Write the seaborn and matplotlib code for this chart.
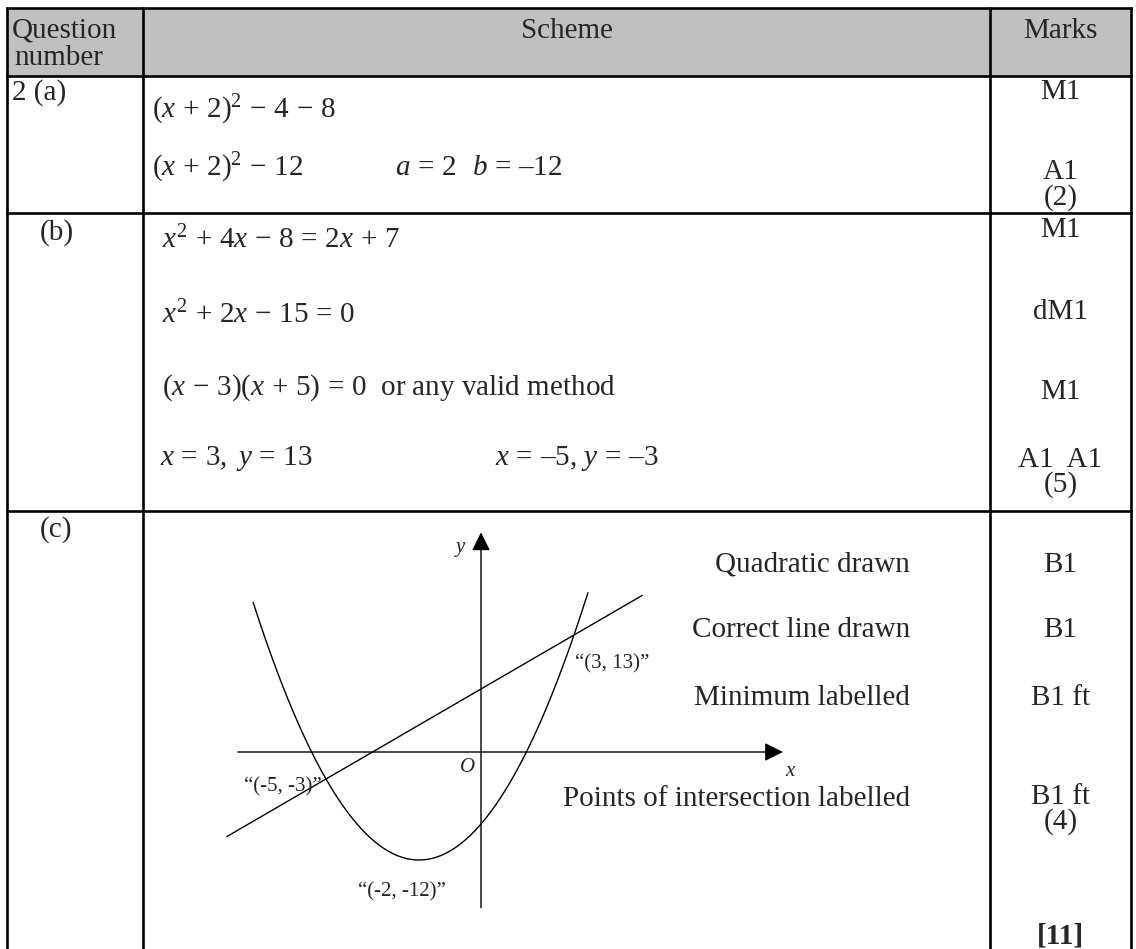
import numpy as np
import pandas as pd
import matplotlib
matplotlib.use('Agg')
import matplotlib.pyplot as plt
from matplotlib.patches import Rectangle
import seaborn as sns

# ------------------------------------------------------------
# data
# ------------------------------------------------------------
headers = ['Question', 'number', 'Scheme', 'Marks']
part_labels = ['2 (a)', '(b)', '(c)']

scheme_a = [r'$(x\,+\,2)^2\,-\,4\,-\,8$',
            r'$(x\,+\,2)^2\,-\,12$',
            r'$a\,=\,2$', r'$b\,=\,$' + '\u201312']
marks_a = ['M1', 'A1', '(2)']

scheme_b = [r'$x^2\,+\,4x\,-\,8\,=\,2x\,+\,7$',
            r'$x^2\,+\,2x\,-\,15\,=\,0$',
            r'$(x\,-\,3)(x\,+\,5)\,=\,0$  or any valid method',
            r'$x\,=\,3,\ y\,=\,13$',
            r'$x\,=\,$' + '\u20135, ' + r'$y\,=\,$' + '\u20133']
marks_b = ['M1', 'dM1', 'M1', 'A1  A1', '(5)']

scheme_c = ['Quadratic drawn', 'Correct line drawn', 'Minimum labelled',
            'Points of intersection labelled']
marks_c = ['B1', 'B1', 'B1 ft', 'B1 ft', '(4)']
total = '[11]'

# sketch: y = x^2 + 4x - 8 and y = 2x + 7
quad_coef = [1, 4, -8]
line_coef = [2, 7]
quad_x_range = [-7.35, 3.45]
line_x_range = [-8.2, 5.2]
points_x = [-5, -2, 3]
points_y = [-3, -12, 13]
point_labels = ['\u201c(-5, -3)\u201d', '\u201c(-2, -12)\u201d', '\u201c(3, 13)\u201d']

# ------------------------------------------------------------
# style
# ------------------------------------------------------------
sns.set_style('white')
plt.rcParams['font.family'] = ['Liberation Serif', 'DejaVu Serif']
plt.rcParams['mathtext.fontset'] = 'custom'
plt.rcParams['mathtext.rm'] = 'Liberation Serif'
plt.rcParams['mathtext.it'] = 'Liberation Serif:italic'
plt.rcParams['mathtext.bf'] = 'Liberation Serif:bold'

W, H = 1136, 949
FS = 21
fig = plt.figure(figsize=(W / 100, H / 100), dpi=100)
ax = fig.add_axes([0, 0, 1, 1])
ax.set_xlim(0, W)
ax.set_ylim(H, 0)
ax.axis('off')

# table frame
left, right, top, head_bot = 7, 1131, 8, 76
col1, col2 = 143, 990
row_ab, row_bc = 213, 511
ax.add_patch(Rectangle((left, top), right - left, head_bot - top,
                       facecolor='#c0c0c0', edgecolor='none', zorder=0))
lw = 1.9
for yy in [top, head_bot, row_ab, row_bc]:
    ax.plot([left, right], [yy, yy], color='black', lw=lw, solid_capstyle='projecting')
for xx in [left, col1, col2, right]:
    ax.plot([xx, xx], [top, H + 5], color='black', lw=lw)

# header
ax.text(12, 30, headers[0], fontsize=FS, va='center', ha='left')
ax.text(14, 58, headers[1], fontsize=FS, va='center', ha='left')
ax.text((col1 + col2) / 2, 31, headers[2], fontsize=FS, va='center', ha='center')
ax.text((col2 + right) / 2, 31, headers[3], fontsize=FS, va='center', ha='center')

# part labels
ax.text(12, 93, part_labels[0], fontsize=FS, va='center', ha='left')
ax.text(40, 233, part_labels[1], fontsize=FS, va='center', ha='left')
ax.text(40, 530, part_labels[2], fontsize=FS, va='center', ha='left')

mx = (col2 + right) / 2

# part (a)
ax.text(152, 110, scheme_a[0], fontsize=FS, va='center', ha='left')
ax.text(152, 168, scheme_a[1], fontsize=FS, va='center', ha='left')
ax.text(395, 168, scheme_a[2], fontsize=FS, va='center', ha='left')
ax.text(472, 168, scheme_a[3], fontsize=FS, va='center', ha='left')
for txt, yy in zip(marks_a, [92, 172, 198]):
    ax.text(mx, yy, txt, fontsize=FS, va='center', ha='center')

# part (b)
for txt, yy in zip(scheme_b[:3], [240, 315, 388]):
    ax.text(162, yy, txt, fontsize=FS, va='center', ha='left')
ax.text(160, 458, scheme_b[3], fontsize=FS, va='center', ha='left')
ax.text(495, 458, scheme_b[4], fontsize=FS, va='center', ha='left')
for txt, yy in zip(marks_b, [230, 312, 392, 460, 485]):
    ax.text(mx, yy, txt, fontsize=FS, va='center', ha='center')

# part (c) descriptions and marks
for txt, yy in zip(scheme_c, [565, 630, 698, 799]):
    ax.text(910, yy, txt, fontsize=FS, va='center', ha='right')
for txt, yy in zip(marks_c, [565, 630, 698, 797, 822]):
    ax.text(mx, yy, txt, fontsize=FS, va='center', ha='center')
ax.text(mx, 936, total, fontsize=FS, va='center', ha='center', fontweight='bold')

# ------------------------------------------------------------
# sketch in its own axes
# ------------------------------------------------------------
ox, oy = 481, 752          # origin in pixels
sx, sy = 31.0, 9.0         # pixels per unit
xlim = (-8.5, 10.5)
ylim = (-18.0, 25.5)
x0 = ox + xlim[0] * sx
x1 = ox + xlim[1] * sx
y0 = oy - ylim[0] * sy
y1 = oy - ylim[1] * sy
ax2 = fig.add_axes([x0 / W, 1 - y0 / H, (x1 - x0) / W, (y0 - y1) / H])
ax2.set_xlim(*xlim)
ax2.set_ylim(*ylim)
ax2.axis('off')
ax2.patch.set_alpha(0)

qx = np.linspace(quad_x_range[0], quad_x_range[1], 300)
qy = np.polyval(quad_coef, qx)
lx = np.array(line_x_range)
ly = np.polyval(line_coef, lx)
curves = pd.concat([
    pd.DataFrame({'x': qx, 'y': qy, 'kind': 'quadratic'}),
    pd.DataFrame({'x': lx, 'y': ly, 'kind': 'line'}),
])
sns.lineplot(data=curves, x='x', y='y', units='kind', estimator=None,
             sort=False, color='black', lw=1.0, ax=ax2)

# coordinate axes with arrows
arrow = dict(arrowstyle='-|>', color='black', lw=1.0, mutation_scale=28,
             shrinkA=0, shrinkB=0)
ax2.annotate('', xy=(9.74, 0), xytext=(-7.84, 0), arrowprops=arrow)
ax2.annotate('', xy=(0, 24.4), xytext=(0, -17.3), arrowprops=arrow)
ax2.text(-0.65, 22.7, 'y', fontsize=15, style='italic', ha='center', va='center')
ax2.text(-0.42, -1.7, 'O', fontsize=15, style='italic', ha='center', va='center')
ax2.text(9.97, -2.2, 'x', fontsize=15, style='italic', ha='center', va='center')

offsets = [(-3, -6), (-12, -23), (1, -21)]
aligns = ['right', 'center', 'left']
for px, py, lab, off, ha in zip(points_x, points_y, point_labels, offsets, aligns):
    ax2.annotate(lab, xy=(px, py), xytext=off, textcoords='offset points',
                 fontsize=15, ha=ha, va='center')

fig.savefig('out.png', dpi=100)
